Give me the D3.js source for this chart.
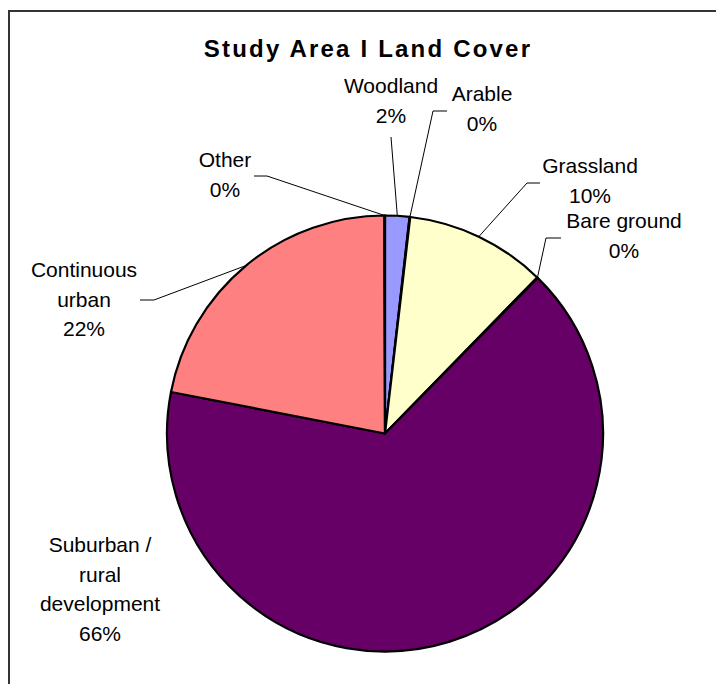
<!DOCTYPE html>
<html><head><meta charset="utf-8">
<script src="https://cdn.jsdelivr.net/npm/d3@7"></script>
<style>html,body{margin:0;padding:0;background:#fff;}svg{display:block;}</style>
</head><body>
<svg id="chart" width="716" height="684"></svg>
<script>
const categories = ["Woodland","Arable","Grassland","Bare ground","Suburban / rural development","Continuous urban","Other"];
const values = [1.8, 0.05, 10.45, 0.05, 65.7, 21.9, 0.05];
const colors = ["#9999FF","#993366","#FFFFCC","#CCFFFF","#660066","#FF8080","#0066CC"];
const labelLines = [["Woodland"],["Arable"],["Grassland"],["Bare ground"],["Suburban /","rural","development"],["Continuous","urban"],["Other"]];
const title = "Study Area I Land Cover";

// label layout (center x, first baseline y) and leader elbow/end points
const labelLayout = [
  {x:391, y:93, leader:[[391,137]]},
  {x:482, y:101, leader:[[433,111],[447,111]]},
  {x:590, y:173, leader:[[527,183],[540,183]]},
  {x:624, y:228, leader:[[546,238],[561,238]]},
  {x:100, y:552, leader:null},
  {x:84, y:277, leader:[[154,300],[140,300]]},
  {x:225, y:167, leader:[[267,176],[254,176]]}
];

const svg = d3.select("#chart");
const W = 716, H = 684;
const cx = 385, cy = 433.5, R = 218;

// frame
svg.append("rect").attr("x",9).attr("y",11).attr("width",W).attr("height",H)
  .attr("fill","none").attr("stroke","#333").attr("stroke-width",2);

svg.append("text").attr("x",368).attr("y",57).attr("text-anchor","middle")
  .attr("font-family","'Liberation Sans', Arial, sans-serif").attr("font-weight","bold")
  .attr("font-size",24).attr("letter-spacing","2.2px").attr("fill","#000").text(title);

const data = categories.map((c,i)=>({cat:c, value:values[i], color:colors[i], lines:labelLines[i], lay:labelLayout[i]}));
const pie = d3.pie().value(d=>d.value).sort(null);
const arcs = pie(data);
const arc = d3.arc().innerRadius(0).outerRadius(R);

const g = svg.append("g").attr("transform",`translate(${cx},${cy})`);
g.selectAll("path").data(arcs).join("path")
  .attr("d",arc).attr("fill",d=>d.data.color)
  .attr("stroke","#000").attr("stroke-width",2.2).attr("stroke-linejoin","round");

const total = d3.sum(values);
const fmt = v => Math.round(v/total*100) + "%";

// leaders
arcs.forEach(a=>{
  const lay = a.data.lay;
  if(!lay.leader) return;
  const mid = (a.startAngle + a.endAngle)/2;
  const p0 = [cx + R*Math.sin(mid), cy - R*Math.cos(mid)];
  const pts = [p0].concat(lay.leader);
  svg.append("path").attr("d", d3.line()(pts)).attr("fill","none")
    .attr("stroke","#000").attr("stroke-width",1);
});

// labels
arcs.forEach(a=>{
  const lay = a.data.lay;
  const lines = a.data.lines.concat([fmt(a.data.value)]);
  const t = svg.append("text").attr("text-anchor","middle")
    .attr("font-family","'Liberation Sans', Arial, sans-serif").attr("font-size",21).attr("fill","#000");
  lines.forEach((ln,i)=>{
    t.append("tspan").attr("x",lay.x).attr("y",lay.y + i*29.7).text(ln);
  });
});
</script>
</body></html>
